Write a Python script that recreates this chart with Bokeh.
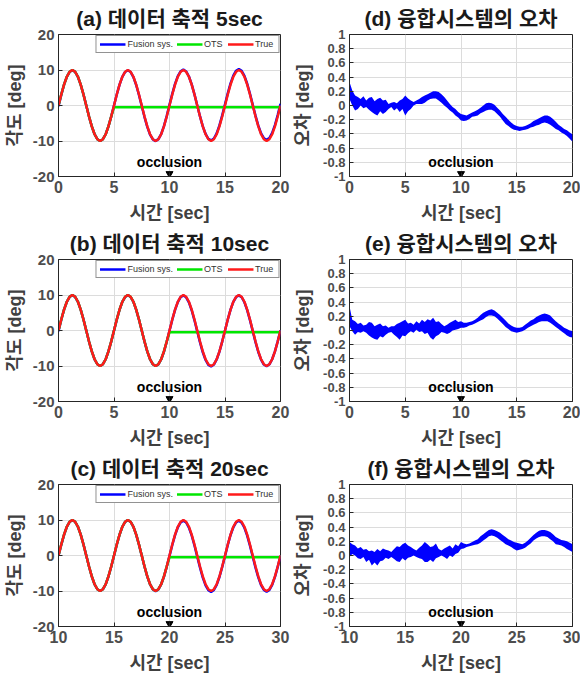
from bokeh.plotting import figure
from bokeh.layouts import column, row
from bokeh.models import FixedTicker, Range1d, Legend, LegendItem
from bokeh.core.properties import value
from bokeh.embed import file_html
from bokeh.resources import INLINE

# ---------------- data ----------------
time_0_20 = [k / 4 for k in range(81)]
time_10_30 = [10 + k / 4 for k in range(81)]

true_deg = [0, 3.1, 5.9, 8.1, 9.5, 10, 9.5, 8.1, 5.9, 3.1,
            0, -3.1, -5.9, -8.1, -9.5, -10, -9.5, -8.1, -5.9, -3.1,
            0, 3.1, 5.9, 8.1, 9.5, 10, 9.5, 8.1, 5.9, 3.1,
            0, -3.1, -5.9, -8.1, -9.5, -10, -9.5, -8.1, -5.9, -3.1,
            0, 3.1, 5.9, 8.1, 9.5, 10, 9.5, 8.1, 5.9, 3.1,
            0, -3.1, -5.9, -8.1, -9.5, -10, -9.5, -8.1, -5.9, -3.1,
            0, 3.1, 5.9, 8.1, 9.5, 10, 9.5, 8.1, 5.9, 3.1,
            0, -3.1, -5.9, -8.1, -9.5, -10, -9.5, -8.1, -5.9, -3.1,
            0]

ots_hold_deg = -0.5

err_d_hi = [0.33, 0.21, 0.14, 0.12, 0.09, 0.13, 0.07, 0.11, 0.12, 0.06,
            0.09, 0.11, 0.07, 0.08, 0.02, 0.04, 0.05, 0.03, 0.07, 0.09,
            0.14, 0.10, 0.07, 0.05, 0.07, 0.09, 0.12, 0.14, 0.16, 0.18,
            0.20, 0.20, 0.19, 0.16, 0.12, 0.07, 0.02, -0.02, -0.05, -0.09,
            -0.12, -0.13, -0.14, -0.12, -0.10, -0.08, -0.06, -0.03, 0.00, 0.03,
            0.04, 0.03, 0.01, -0.03, -0.07, -0.12, -0.16, -0.20, -0.24, -0.27,
            -0.29, -0.30, -0.30, -0.29, -0.27, -0.25, -0.22, -0.20, -0.18, -0.16,
            -0.14, -0.14, -0.16, -0.19, -0.23, -0.27, -0.30, -0.33, -0.35, -0.38,
            -0.41]
err_d_lo = [0.09, 0.00, -0.07, -0.05, 0.00, -0.04, -0.02, -0.06, -0.09, -0.12,
            -0.14, -0.08, -0.12, -0.09, -0.05, -0.02, -0.07, -0.04, -0.09, -0.05,
            -0.14, -0.08, -0.05, 0.00, 0.02, 0.02, 0.02, 0.04, 0.07, 0.09,
            0.10, 0.10, 0.07, 0.04, 0.00, -0.03, -0.07, -0.10, -0.14, -0.17,
            -0.21, -0.22, -0.21, -0.19, -0.16, -0.15, -0.14, -0.11, -0.09, -0.07,
            -0.06, -0.06, -0.08, -0.12, -0.16, -0.21, -0.26, -0.29, -0.32, -0.34,
            -0.35, -0.36, -0.35, -0.34, -0.33, -0.31, -0.30, -0.28, -0.27, -0.25,
            -0.24, -0.25, -0.27, -0.30, -0.33, -0.35, -0.38, -0.40, -0.43, -0.47,
            -0.51]

err_e_hi = [0.34, 0.15, 0.13, 0.09, 0.11, 0.07, 0.08, 0.12, 0.11, 0.06,
            0.08, 0.10, 0.06, 0.07, 0.04, 0.06, 0.06, 0.09, 0.11, 0.13,
            0.15, 0.10, 0.11, 0.08, 0.13, 0.10, 0.15, 0.12, 0.16, 0.14,
            0.18, 0.12, 0.13, 0.09, 0.06, 0.08, 0.11, 0.13, 0.15, 0.12,
            0.13, 0.11, 0.11, 0.12, 0.13, 0.15, 0.18, 0.22, 0.25, 0.27,
            0.29, 0.30, 0.28, 0.25, 0.22, 0.18, 0.14, 0.10, 0.07, 0.05,
            0.04, 0.04, 0.05, 0.08, 0.11, 0.14, 0.16, 0.19, 0.21, 0.23,
            0.24, 0.23, 0.21, 0.17, 0.13, 0.10, 0.07, 0.04, 0.02, 0.00,
            -0.01]
err_e_lo = [0.06, -0.01, -0.06, -0.02, -0.03, -0.01, -0.03, -0.07, -0.10, -0.12,
            -0.13, -0.08, -0.10, -0.06, -0.03, -0.02, -0.06, -0.09, -0.13, -0.07,
            -0.08, -0.04, -0.01, -0.03, 0.01, -0.02, -0.01, -0.05, -0.03, -0.10,
            -0.13, -0.08, -0.06, -0.02, -0.03, -0.05, -0.03, 0.00, 0.01, 0.02,
            0.04, 0.04, 0.05, 0.07, 0.08, 0.10, 0.12, 0.14, 0.16, 0.19,
            0.21, 0.21, 0.20, 0.17, 0.13, 0.09, 0.05, 0.02, -0.01, -0.02,
            -0.03, -0.02, -0.01, 0.01, 0.04, 0.06, 0.08, 0.10, 0.12, 0.13,
            0.13, 0.13, 0.11, 0.08, 0.05, 0.02, -0.01, -0.04, -0.07, -0.09,
            -0.10]

err_f_hi = [0.19, 0.16, 0.14, 0.10, 0.12, 0.08, 0.09, 0.06, 0.07, 0.05,
            0.09, 0.06, 0.10, 0.08, 0.07, 0.05, 0.09, 0.13, 0.12, 0.16,
            0.18, 0.14, 0.12, 0.09, 0.07, 0.11, 0.14, 0.19, 0.16, 0.12,
            0.13, 0.17, 0.09, 0.07, 0.10, 0.12, 0.14, 0.10, 0.16, 0.13,
            0.19, 0.17, 0.16, 0.17, 0.19, 0.21, 0.23, 0.27, 0.30, 0.33,
            0.36, 0.37, 0.36, 0.34, 0.32, 0.29, 0.26, 0.23, 0.21, 0.19,
            0.18, 0.17, 0.16, 0.18, 0.21, 0.25, 0.29, 0.32, 0.35, 0.36,
            0.36, 0.35, 0.33, 0.30, 0.26, 0.24, 0.22, 0.21, 0.20, 0.18,
            0.16]
err_f_lo = [-0.02, 0.02, 0.00, -0.04, -0.05, -0.02, -0.09, -0.06, -0.14, -0.10,
            -0.14, -0.08, -0.07, -0.03, -0.05, -0.02, -0.05, -0.08, -0.09, -0.04,
            -0.07, -0.03, -0.02, 0.00, -0.02, -0.04, -0.05, -0.09, -0.09, -0.06,
            -0.09, -0.04, -0.02, 0.00, -0.02, -0.05, 0.00, -0.02, 0.02, 0.04,
            0.09, 0.10, 0.12, 0.13, 0.14, 0.15, 0.16, 0.18, 0.21, 0.24,
            0.27, 0.28, 0.27, 0.25, 0.22, 0.19, 0.16, 0.14, 0.12, 0.09,
            0.07, 0.08, 0.09, 0.11, 0.14, 0.17, 0.21, 0.24, 0.26, 0.27,
            0.27, 0.26, 0.23, 0.20, 0.16, 0.15, 0.14, 0.12, 0.09, 0.07,
            0.05]

titles_left = ["(a) 데이터 축적 5sec", "(b) 데이터 축적 10sec", "(c) 데이터 축적 20sec"]
titles_right = ["(d) 융합시스템의 오차", "(e) 융합시스템의 오차", "(f) 융합시스템의 오차"]
ots_loss_time = [5, 10, 20]
occlusion_time = [10, 10, 20]
x_ticks_rows = [[0, 5, 10, 15, 20], [0, 5, 10, 15, 20], [10, 15, 20, 25, 30]]
x_tick_labels_rows = [["0", "5", "10", "15", "20"], ["0", "5", "10", "15", "20"],
                      ["10", "15", "20", "25", "30"]]
angle_ticks = [-20, -10, 0, 10, 20]
angle_tick_labels = ["-20", "-10", "0", "10", "20"]
err_ticks = [-1, -0.8, -0.6, -0.4, -0.2, 0, 0.2, 0.4, 0.6, 0.8, 1]
err_tick_labels = ["-1", "-0.8", "-0.6", "-0.4", "-0.2", "0", "0.2", "0.4", "0.6", "0.8", "1"]
x_label = "시간 [sec]"
y_label_angle = "각도 [deg]"
y_label_err = "오차 [deg]"
legend_labels = ["Fusion sys.", "OTS", "True"]
occlusion_text = "occlusion"

# ---------------- style ----------------
FONT = "Liberation Sans, Noto Sans CJK KR"
LATIN = "Liberation Sans"
BLUE, GREEN, RED = "#0000ff", "#00e600", "#ff1a1a"
AX = "#262626"
rows_geom = [(225, 33, 47), (225, 34, 47), (225, 33, 48)]  # height, top, bottom


def style(p, xt, xl, yt, yl, ytick_size, ylab, ylab_standoff):
    p.title.text_font = FONT
    p.title.text_font_size = "21px"
    p.title.text_font_style = "bold"
    p.title.text_color = "#1a1a1a"
    p.title.align = "center"
    p.title.standoff = 9
    p.outline_line_color = AX
    p.outline_line_width = 1
    p.xaxis.ticker = FixedTicker(ticks=xt)
    p.yaxis.ticker = FixedTicker(ticks=yt)
    p.xaxis.major_label_overrides = dict(zip(xt, xl))
    p.yaxis.major_label_overrides = dict(zip(yt, yl))
    p.axis.axis_line_color = AX
    p.axis.major_tick_line_color = AX
    p.axis.major_tick_in = 4
    p.axis.major_tick_out = 0
    p.axis.minor_tick_line_color = None
    p.axis.major_label_standoff = 4
    p.axis.major_label_text_font = LATIN
    p.axis.major_label_text_font_style = "bold"
    p.axis.major_label_text_color = "#4d4d4d"
    p.xaxis.major_label_text_font_size = "16px"
    p.yaxis.major_label_text_font_size = ytick_size
    p.xaxis.axis_label = x_label
    p.yaxis.axis_label = ylab
    p.axis.axis_label_text_font = FONT
    p.axis.axis_label_text_font_size = "18px"
    p.axis.axis_label_text_font_style = "bold"
    p.axis.axis_label_text_color = "#404040"
    p.xaxis.axis_label_standoff = 7
    p.yaxis.axis_label_standoff = ylab_standoff
    p.grid.grid_line_color = "#dcdcdc"
    p.grid.grid_line_width = 1


rows = []
for i in range(3):
    h, top, bot = rows_geom[i]
    t = time_0_20 if i < 2 else time_10_30
    xt = x_ticks_rows[i]
    err_hi = [err_d_hi, err_e_hi, err_f_hi][i]
    err_lo = [err_d_lo, err_e_lo, err_f_lo][i]
    cut = int((ots_loss_time[i] - t[0]) * 4)
    ots = true_deg[:cut] + [ots_hold_deg] * (len(true_deg) - cut)
    fusion = [tv - (a + b) / 2 for tv, a, b in zip(true_deg, err_hi, err_lo)]

    # ---- angle panel ----
    pa = figure(width=290, height=h, x_range=Range1d(xt[0], xt[-1]), y_range=Range1d(-20, 20),
                title=titles_left[i], output_backend="svg", toolbar_location=None,
                min_border_left=58, min_border_right=10, min_border_top=top,
                min_border_bottom=bot)
    r_f = pa.line(t, fusion, line_color=BLUE, line_width=2.5)
    r_o = pa.line(t, ots, line_color=GREEN, line_width=2.5)
    r_t = pa.line(t, true_deg, line_color=RED, line_width=2.5)
    leg = Legend(items=[LegendItem(label=legend_labels[0], renderers=[r_f]),
                        LegendItem(label=legend_labels[1], renderers=[r_o]),
                        LegendItem(label=legend_labels[2], renderers=[r_t])],
                 location="top_right", orientation="horizontal", margin=1, padding=3,
                 spacing=3, glyph_width=26, glyph_height=8, label_standoff=2,
                 label_text_font=LATIN, label_text_font_size="9px",
                 label_text_color="#333333", label_height=9,
                 border_line_color=AX, border_line_width=1, background_fill_alpha=1)
    pa.add_layout(leg)
    pa.text(x=[occlusion_time[i]], y=[-16.0], text=[occlusion_text],
            text_font=value(LATIN), text_font_style="bold", text_font_size="14px",
            text_align="center", text_baseline="middle", text_color="black")
    pa.scatter(x=[occlusion_time[i]], y=[-19.2], marker="inverted_triangle", size=7,
               color="black")
    style(pa, xt, x_tick_labels_rows[i], angle_ticks, angle_tick_labels, "15px",
          y_label_angle, 5)

    # ---- error panel ----
    pe = figure(width=290, height=h, x_range=Range1d(xt[0], xt[-1]), y_range=Range1d(-1, 1),
                title=titles_right[i], output_backend="svg", toolbar_location=None,
                min_border_left=59, min_border_right=8, min_border_top=top,
                min_border_bottom=bot)
    pe.varea(x=t, y1=err_lo, y2=err_hi, fill_color=BLUE, fill_alpha=1)
    pe.text(x=[occlusion_time[i]], y=[-0.8], text=[occlusion_text],
            text_font=value(LATIN), text_font_style="bold", text_font_size="14px",
            text_align="center", text_baseline="middle", text_color="black")
    pe.scatter(x=[occlusion_time[i]], y=[-0.96], marker="inverted_triangle", size=7,
               color="black")
    style(pe, xt, x_tick_labels_rows[i], err_ticks, err_tick_labels, "13px",
          y_label_err, 7)
    rows.append(row(pa, pe))

layout = column(*rows)
open("out.html", "w").write(file_html(layout, INLINE))
